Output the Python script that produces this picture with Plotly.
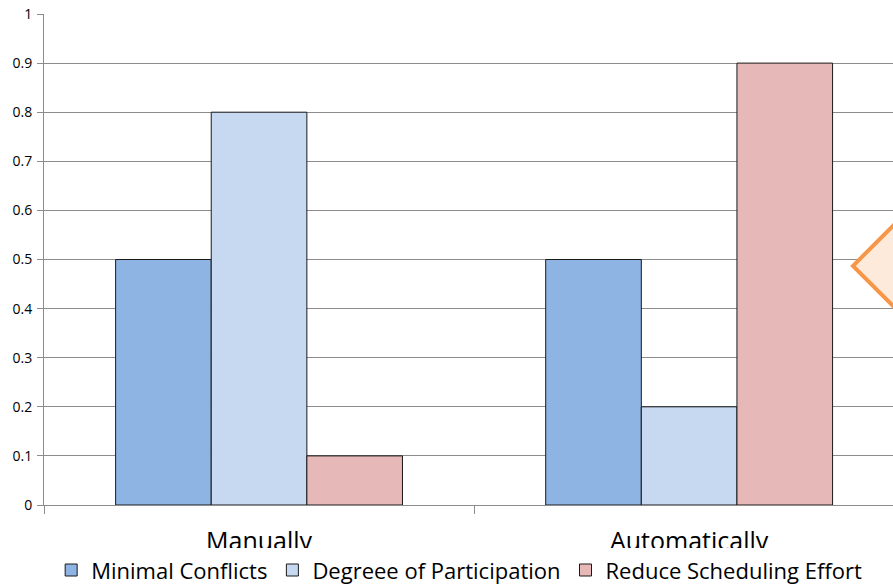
import plotly.graph_objects as go

categories = ["Manually", "Automatically"]
series_names = ["Minimal Conflicts", "Degreee of Participation", "Reduce Scheduling Effort"]
minimal_conflicts = [0.5, 0.5]
degree_participation = [0.8, 0.2]
reduce_effort = [0.1, 0.9]
y_ticks = [0, 0.1, 0.2, 0.3, 0.4, 0.5, 0.6, 0.7, 0.8, 0.9, 1]
y_tick_labels = ["0", "0.1", "0.2", "0.3", "0.4", "0.5", "0.6", "0.7", "0.8", "0.9", "1"]

colors = ["#8EB4E3", "#C6D9F1", "#E6B9B8"]
values = [minimal_conflicts, degree_participation, reduce_effort]

fig = go.Figure()
for name, vals, col in zip(series_names, values, colors):
    fig.add_trace(go.Bar(
        x=categories, y=vals, name=name,
        marker=dict(color=col, line=dict(color="#1a1a1a", width=1)),
    ))

FONT = "Open Sans"
fig.update_layout(
    width=893, height=586,
    margin=dict(l=44, r=0, t=14, b=81, autoexpand=False),
    paper_bgcolor="white", plot_bgcolor="white",
    barmode="group", bargap=0.333, bargroupgap=0,
    font=dict(family=FONT, color="black"),
    showlegend=True,
    legend=dict(
        orientation="h", x=0.489, xanchor="center", y=-0.088, yanchor="top",
        bgcolor="white", bordercolor="white", borderwidth=1,
        font=dict(size=22, family=FONT, color="black"),
        itemwidth=30, tracegroupgap=0,
    ),
    xaxis=dict(
        type="category", range=[-0.5, 1.474], automargin=False,
        showline=True, linecolor="#8c8c8c", linewidth=1,
        ticks="outside", tickson="boundaries", ticklen=8, tickcolor="#8c8c8c",
        tickfont=dict(size=25, family=FONT, color="black"),
        ticklabelstandoff=14,
        showgrid=False,
    ),
    yaxis=dict(
        range=[0, 1], tickvals=y_ticks, ticktext=y_tick_labels, automargin=False,
        showline=True, linecolor="#8c8c8c", linewidth=1,
        ticks="outside", ticklen=6, tickcolor="#8c8c8c",
        tickfont=dict(size=14, family=FONT, color="black"),
        ticklabelstandoff=2,
        showgrid=True, gridcolor="#8c8c8c", gridwidth=1,
        zeroline=False,
    ),
)

# decorative callout diamond partly visible at right edge
fig.add_shape(
    type="path", xref="x", yref="y",
    xsizemode="pixel", ysizemode="pixel",
    xanchor=1.474, yanchor=0.487,
    path="M -40,0 L 20,60 L 80,0 L 20,-60 Z",
    fillcolor="#FDEADA", line=dict(color="#F79646", width=4),
    layer="above",
)

fig.write_html(
    "out.html",
    config={"displayModeBar": False},
    post_script="document.body.style.margin='0';document.body.style.overflow='hidden';",
)
